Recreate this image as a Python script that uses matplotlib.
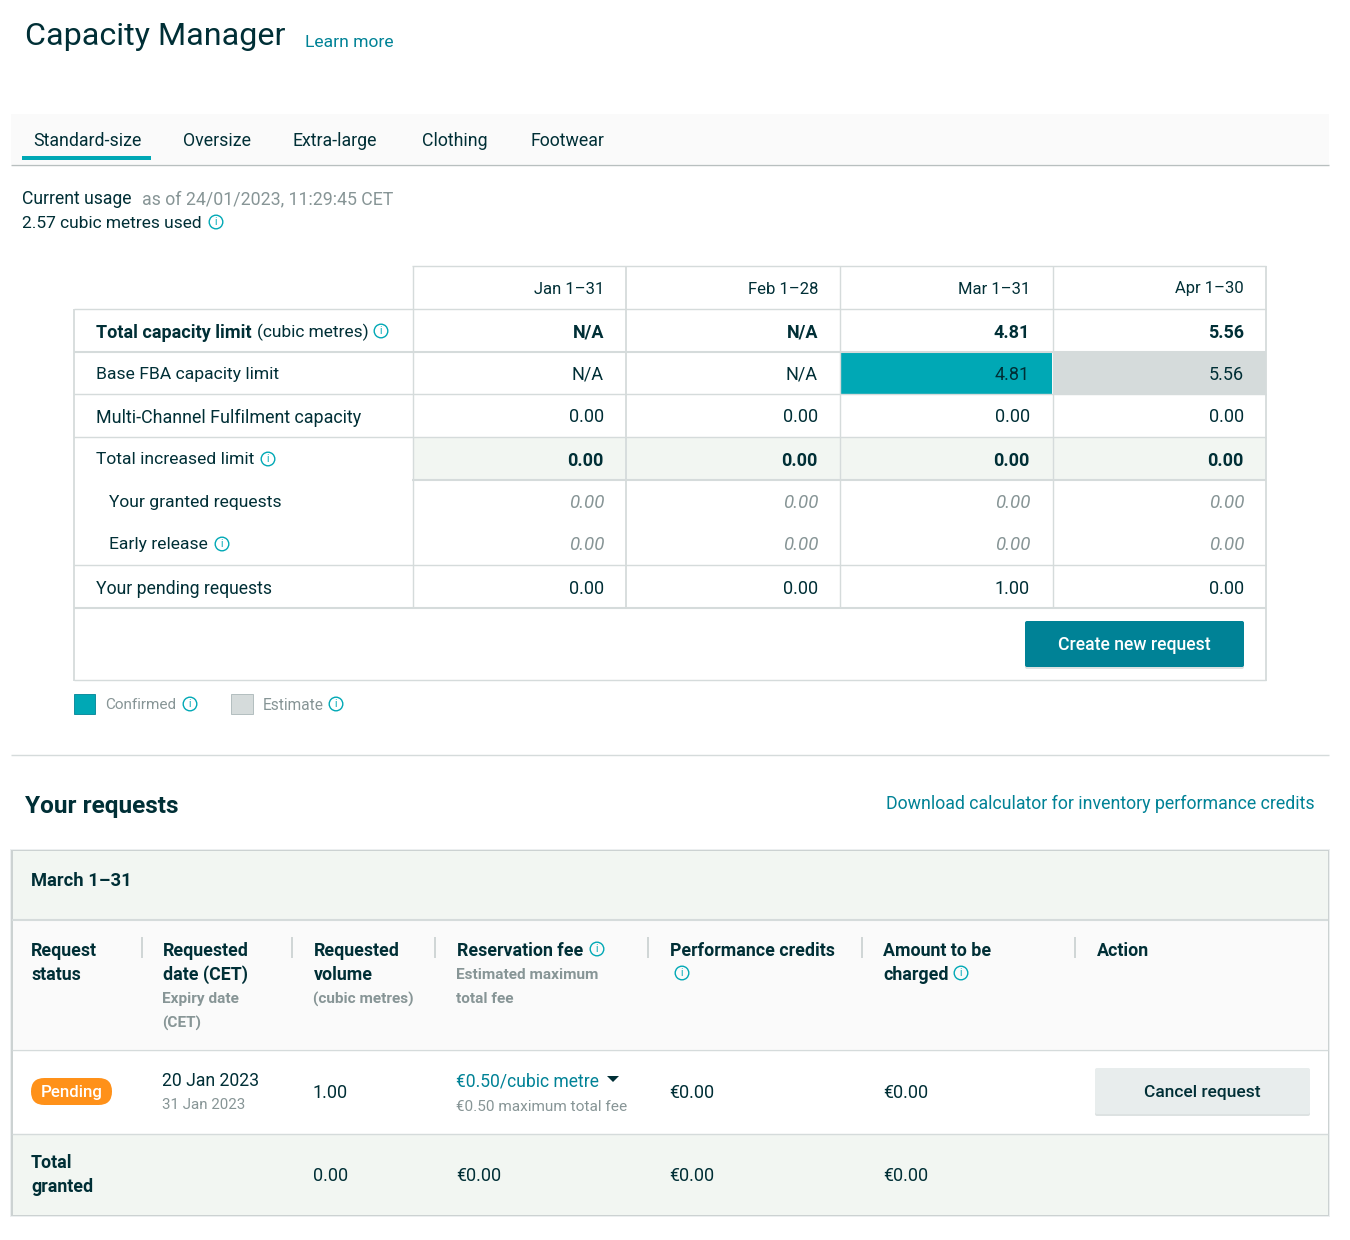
import matplotlib
matplotlib.use("Agg")
import matplotlib.pyplot as plt
from matplotlib.patches import Rectangle, Circle, FancyBboxPatch, Polygon

plt.rcParams['font.family'] = ['Roboto', 'DejaVu Sans']

# table data
months = ["Jan 1–31", "Feb 1–28", "Mar 1–31", "Apr 1–30"]
total_limit = ["N/A", "N/A", "4.81", "5.56"]
base_limit = ["N/A", "N/A", "4.81", "5.56"]
multi_channel = ["0.00", "0.00", "0.00", "0.00"]
increased = ["0.00", "0.00", "0.00", "0.00"]
granted = ["0.00", "0.00", "0.00", "0.00"]
early_release = ["0.00", "0.00", "0.00", "0.00"]
pending = ["0.00", "0.00", "1.00", "0.00"]
tabs = ["Standard-size", "Oversize", "Extra-large", "Clothing", "Footwear"]
tab_x = [33, 183, 292, 422, 531]

DARK = "#002f36"
TEAL = "#008296"
CYAN = "#00a8b5"
GREY = "#879596"
LINE = "#d5dbdb"
PALE = "#f2f6f2"
BODY = 13.0
LABEL = 12.7

fig = plt.figure(figsize=(13.5, 12.4), dpi=100)
ax = fig.add_axes([0, 0, 1, 1])
ax.set_xlim(0, 1350)
ax.set_ylim(1240, 0)
ax.axis("off")


def txt(x, y, s, size=BODY, color=DARK, weight="normal", ha="left", style="normal"):
    ax.text(x, y - 1.5, s, fontsize=size, color=color, fontweight=weight, ha=ha, va="center_baseline",
            fontstyle=style, zorder=5)


def hline(x0, x1, y, lw=1.0, color=LINE):
    ax.plot([x0, x1], [y, y], color=color, lw=lw, solid_capstyle="butt", zorder=3)


def vline(x, y0, y1, lw=1.0, color=LINE):
    ax.plot([x, x], [y0, y1], color=color, lw=lw, solid_capstyle="butt", zorder=3)


def rect(x, y, w, h, color):
    ax.add_patch(Rectangle((x, y), w, h, facecolor=color, edgecolor="none", zorder=1))


def info(x, y):
    ax.add_patch(Circle((x, y), 6.8, facecolor="none", edgecolor=CYAN, lw=1.0, zorder=5))
    ax.text(x, y + 0.3, "i", fontsize=7.5, color=CYAN, ha="center", va="center", zorder=6)


# header
txt(25, 35, "Capacity Manager", size=23.2)
txt(305, 42.5, "Learn more", color=TEAL, size=12.6)

# tabs
rect(11, 114, 1318, 50, "#fafafa")
hline(11, 1329, 164.5, lw=1.0, color="#b8bfbf")
for name, x in zip(tabs, tab_x):
    txt(x, 140, name, size=12.75)
rect(22, 156, 129, 4, CYAN)

# current usage
txt(22, 199, "Current usage", size=LABEL)
txt(142, 199, "as of 24/01/2023, 11:29:45 CET", size=12.75, color=GREY)
txt(22, 223, "2.57 cubic metres used", size=12.5)
info(216, 222)

# capacity table
col_edges = [412.5, 625.5, 839.5, 1052.5, 1266]
col_right = [604, 818, 1030, 1244]
row_y = [289, 332, 374, 417, 460, 502, 545, 588]

rect(840, 353, 212, 41, CYAN)
rect(1053, 351, 213, 44, LINE)
rect(413, 438, 853, 42, PALE)

vline(74, 309, 681, lw=1.3)
vline(1266, 266, 681, lw=1.3)
vline(col_edges[0], 266, 608)
vline(col_edges[1], 266, 608, lw=1.3)
vline(col_edges[2], 266, 608)
vline(col_edges[3], 266, 608)
hline(412, 1266, 266)
hline(74, 1266, 309)
hline(74, 1266, 352, lw=1.5)
hline(74, 1266, 394)
hline(74, 1266, 437)
hline(412, 1266, 480, lw=1.5)
hline(74, 1266, 565)
hline(74, 1266, 608, lw=1.5)
hline(74, 1266, 680)

for i, x in enumerate(col_right):
    txt(x, row_y[0], months[i], size=12.0, ha="right")
    txt(x, row_y[1], total_limit[i], ha="right", weight="bold")
    txt(x, row_y[2], base_limit[i], ha="right")
    txt(x, row_y[3], multi_channel[i], ha="right")
    txt(x, row_y[4], increased[i], ha="right", weight="bold")
    txt(x + 1, row_y[5], granted[i], size=13.5, ha="right", color=GREY, style="italic")
    txt(x + 1, row_y[6], early_release[i], size=13.5, ha="right", color=GREY, style="italic")
    txt(x, row_y[7], pending[i], ha="right")

txt(96, row_y[1], "Total capacity limit", weight="bold")
txt(257, row_y[1], "(cubic metres)", size=12.5)
info(381, 331)
txt(96, row_y[2], "Base FBA capacity limit", size=12.6)
txt(96, row_y[3], "Multi-Channel Fulfilment capacity", size=12.9)
txt(96, row_y[4], "Total increased limit", size=12.6)
info(268, 459)
txt(109, row_y[5], "Your granted requests", size=12.6)
txt(109, row_y[6], "Early release", size=12.6)
info(222, 544)
txt(96, row_y[7], "Your pending requests", size=12.7)


def button(x, y, w, h, color, label, text_color, size):
    ax.add_patch(FancyBboxPatch((x + 1, y + 2), w - 2, h - 1, boxstyle="round,pad=1,rounding_size=2",
                                facecolor="#dde2e2", edgecolor="none", zorder=1))
    ax.add_patch(FancyBboxPatch((x + 1, y + 1), w - 2, h - 2, boxstyle="round,pad=1,rounding_size=2",
                                facecolor=color, edgecolor="none", zorder=2))
    txt(x + w / 2, y + h / 2 + 1, label, size=size, color=text_color, ha="center", weight="medium")


button(1025, 621, 219, 46, TEAL, "Create new request", "white", 12.7)

# legend
ax.add_patch(Rectangle((73.5, 693.5), 21, 20, facecolor=CYAN, edgecolor="#008296", lw=0.6, zorder=2))
txt(105, 705, "Confirmed", size=11.0, color=GREY)
info(190, 704)
ax.add_patch(Rectangle((231, 693.5), 21.5, 20, facecolor=LINE, edgecolor="#aab7b8", lw=0.6, zorder=2))
txt(263, 705, "Estimate", size=11.2, color=GREY)
info(336, 704)

hline(11, 1329, 755)

# requests section
txt(25, 805, "Your requests", size=17.6, weight="bold")
txt(1315, 803, "Download calculator for inventory performance credits", size=12.8, color=TEAL, ha="right")

# card with soft shadow
ax.add_patch(Rectangle((10, 849), 1320, 368, facecolor="#eceff0", edgecolor="none", zorder=0))
ax.add_patch(Rectangle((11, 850), 1318, 366, facecolor="#ccd2d2", edgecolor="none", zorder=0))
rect(12.5, 850.5, 1315, 364, "white")
rect(12.5, 850.5, 1315, 70, PALE)
rect(12.5, 920, 1315, 129, "#fafafa")
rect(12.5, 1134, 1315, 80.5, PALE)
hline(12, 1328, 920, lw=1.5)
hline(12, 1328, 1049.5)
hline(12, 1328, 1133.5)

txt(31, 881, "March 1–31", size=13.2, weight="bold")

for x in [142, 292, 435, 648, 862, 1075]:
    vline(x, 937, 958, lw=1.2, color="#c8cfcf")

HEAD = 12.8
SUB = 11.1
txt(31, 950, "Request", size=HEAD, weight="bold")
txt(31, 974, "status", size=HEAD, weight="bold")
txt(163, 950, "Requested", size=HEAD, weight="bold")
txt(163, 974, "date (CET)", size=HEAD, weight="bold")
txt(162, 999, "Expiry date", size=SUB, color=GREY, weight="bold")
txt(162, 1023, "(CET)", size=SUB, color=GREY, weight="bold")
txt(314, 950, "Requested", size=HEAD, weight="bold")
txt(314, 974, "volume", size=HEAD, weight="bold")
txt(313, 999, "(cubic metres)", size=SUB, color=GREY, weight="bold")
txt(457, 950, "Reservation fee", size=HEAD, weight="bold")
info(597, 949)
txt(456, 975, "Estimated maximum", size=SUB, color=GREY, weight="bold")
txt(456, 999, "total fee", size=SUB, color=GREY, weight="bold")
txt(670, 950, "Performance credits", size=HEAD, weight="bold")
info(682, 973)
txt(883, 950, "Amount to be", size=HEAD, weight="bold")
txt(883, 974, "charged", size=HEAD, weight="bold")
info(961, 973)
txt(1097, 950, "Action", size=HEAD, weight="bold")

# pending row
ax.add_patch(FancyBboxPatch((31, 1078), 81, 27, boxstyle="round,pad=0,rounding_size=13.4",
                            facecolor="#ff9119", edgecolor="none", zorder=2))
txt(71.5, 1092.5, "Pending", color="white", ha="center", size=12.2, weight="medium")

txt(162, 1080.5, "20 Jan 2023", size=12.7)
txt(162, 1105, "31 Jan 2023", size=10.9, color=GREY)
txt(313, 1092.5, "1.00")
txt(456, 1081.5, "€0.50/cubic metre", size=12.65, color=TEAL)
ax.add_patch(Polygon([(607, 1076), (619, 1076), (613, 1082)], closed=True, facecolor=DARK, edgecolor="none", zorder=5))
txt(456, 1107, "€0.50 maximum total fee", size=11.05, color=GREY)
txt(669, 1092.5, "€0.00")
txt(883, 1092.5, "€0.00")
button(1095, 1068, 215, 46, "#e8eded", "Cancel request", DARK, 12.5)

# total row
txt(31, 1163, "Total", size=HEAD, weight="bold")
txt(31, 1187, "granted", size=HEAD, weight="bold")
txt(313, 1175.5, "0.00")
txt(456, 1175.5, "€0.00")
txt(669, 1175.5, "€0.00")
txt(883, 1175.5, "€0.00")

fig.savefig("out.png", dpi=100)
